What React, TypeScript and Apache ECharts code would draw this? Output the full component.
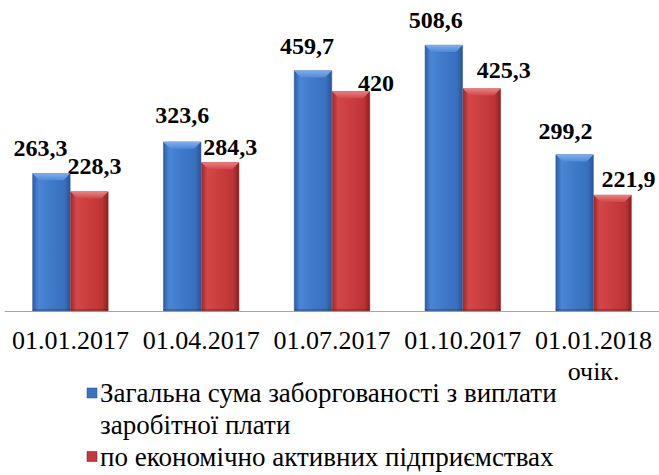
import React, { useEffect, useRef } from "react";
import * as echarts from "echarts";

const categories = ["01.01.2017", "01.04.2017", "01.07.2017", "01.10.2017", "01.01.2018\nочік."];
const totalDebt = [263.3, 323.6, 459.7, 508.6, 299.2];
const activeDebt = [228.3, 284.3, 420, 425.3, 221.9];
const seriesNames = [
  "Загальна сума заборгованості з виплати заробітної плати",
  "по економічно активних підприємствах",
];
const legendLines = [
  ["Загальна сума заборгованості з виплати", "заробітної плати"],
  ["по економічно активних підприємствах"],
];

// label placement tweaks (dx, dy) as in the source picture
const totalLabelOffsets = [[-11, -13], [0, -15], [-6, -12], [-8, -13], [-9, -11]];
const activeLabelOffsets = [[5, -14], [10, -3], [25, 4], [22, -6], [16, -4]];

const FONT = '"Liberation Serif", "Times New Roman", Times, "DejaVu Serif", serif';
const BAR_W = 38;

const blueFill = new echarts.graphic.LinearGradient(0, 0, 1, 0, [
  { offset: 0, color: "#2c5ca3" },
  { offset: 0.15, color: "#4a86d6" },
  { offset: 0.5, color: "#3f79c8" },
  { offset: 0.85, color: "#3870bd" },
  { offset: 1, color: "#27549a" },
]);
const redFill = new echarts.graphic.LinearGradient(0, 0, 1, 0, [
  { offset: 0, color: "#a32727" },
  { offset: 0.15, color: "#d24747" },
  { offset: 0.5, color: "#c93d3d" },
  { offset: 0.85, color: "#bd3434" },
  { offset: 1, color: "#8c1e1e" },
]);

const fmt = (v: number) => String(v).replace(".", ",");

function bevel(side: number, light: string, dark: string) {
  return (params: any, api: any) => {
    const idx = api.value(0);
    const val = api.value(1);
    const pt = api.coord([idx, val]);
    const base = api.coord([idx, 0]);
    const x0 = side < 0 ? pt[0] - BAR_W : pt[0];
    const x1 = x0 + BAR_W;
    const top = pt[1];
    const b = 7;
    return {
      type: "group",
      children: [
        {
          type: "polygon",
          shape: { points: [[x0, top], [x1, top], [x1 - b, top + b], [x0 + b, top + b]] },
          style: {
            fill: new echarts.graphic.LinearGradient(0, 0, 0, 1, [
              { offset: 0, color: light },
              { offset: 1, color: dark },
            ]),
          },
        },
        {
          type: "rect",
          shape: { x: x0, y: base[1] - 2, width: BAR_W, height: 2 },
          style: { fill: "rgba(0,0,0,0.2)" },
        },
      ],
    };
  };
}

export default function App() {
  const ref = useRef<HTMLDivElement>(null);
  useEffect(() => {
    if (!ref.current) return;
    const chart = echarts.init(ref.current, null, { renderer: "svg" });
    const legendColors = ["#3a72c2", "#c23a3a"];
    const legendGraphics: any[] = [];
    const lineYs = [[393, 425], [456.5]];
    legendLines.forEach((lines, si) => {
      legendGraphics.push({
        type: "rect",
        shape: { x: 87, y: lineYs[si][0] - 5, width: 10, height: 10 },
        style: { fill: legendColors[si], stroke: si === 0 ? "#1f4d8c" : "#7a1a1a", lineWidth: 0.5 },
      });
      lines.forEach((t, li) => {
        legendGraphics.push({
          type: "text",
          x: 100,
          y: lineYs[si][li],
          style: {
            text: t,
            fontFamily: FONT,
            fontSize: 27,
            fill: "#000",
            verticalAlign: "middle",
            align: "left",
          },
        });
      });
    });

    chart.setOption({
      animation: false,
      backgroundColor: "#fff",
      textStyle: { fontFamily: FONT },
      grid: { left: 5, right: 0, top: 18, bottom: 164 },
      xAxis: {
        type: "category",
        data: categories,
        axisLine: { lineStyle: { color: "#a6a6a6", width: 1 } },
        axisTick: { length: 7, lineStyle: { color: "#a6a6a6" } },
        axisLabel: {
          interval: 0,
          margin: 14,
          fontFamily: FONT,
          fontSize: 26,
          lineHeight: 31,
          color: "#000",
        },
      },
      yAxis: { type: "value", min: 0, max: 560, show: false, splitLine: { show: false } },
      graphic: legendGraphics,
      series: [
        {
          name: seriesNames[0],
          type: "bar",
          barWidth: BAR_W,
          barGap: "0%",
          itemStyle: { color: blueFill, borderColor: "#2a5595", borderWidth: 0.5 },
          label: {
            show: true,
            position: "top",
            distance: 0,
            fontFamily: FONT,
            fontWeight: "bold",
            fontSize: 24,
            color: "#000",
            formatter: (p: any) => fmt(p.value),
          },
          data: totalDebt.map((v, i) => ({ value: v, label: { offset: totalLabelOffsets[i] } })),
          z: 2,
        },
        {
          name: seriesNames[1],
          type: "bar",
          barWidth: BAR_W,
          barGap: "0%",
          itemStyle: { color: redFill, borderColor: "#8a2020", borderWidth: 0.5 },
          label: {
            show: true,
            position: "top",
            distance: 0,
            fontFamily: FONT,
            fontWeight: "bold",
            fontSize: 24,
            color: "#000",
            formatter: (p: any) => fmt(p.value),
          },
          data: activeDebt.map((v, i) => ({ value: v, label: { offset: activeLabelOffsets[i] } })),
          z: 2,
        },
        {
          type: "custom",
          silent: true,
          renderItem: bevel(-1, "#7fb0ee", "#4f89d6"),
          data: totalDebt.map((v, i) => [i, v]),
          encode: { x: 0, y: 1 },
          z: 3,
        },
        {
          type: "custom",
          silent: true,
          renderItem: bevel(1, "#ee8080", "#d04848"),
          data: activeDebt.map((v, i) => [i, v]),
          encode: { x: 0, y: 1 },
          z: 3,
        },
      ],
    });
    return () => chart.dispose();
  }, []);
  return (
    <div
      ref={ref}
      style={{ position: "absolute", left: 0, top: 0, width: 659, height: 475 }}
    />
  );
}
